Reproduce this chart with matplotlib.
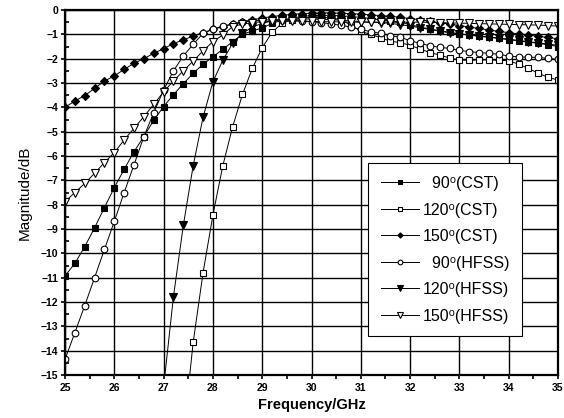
import numpy as np
import matplotlib
matplotlib.use("Agg")
import matplotlib.pyplot as plt
from matplotlib.ticker import MultipleLocator

plt.rcParams['font.family'] = ['Liberation Sans', 'DejaVu Sans']

# frequency grid, GHz (one marker every 0.2 GHz)
freq = [25.0, 25.2, 25.4, 25.6, 25.8, 26.0, 26.2, 26.4, 26.6, 26.8,
        27.0, 27.2, 27.4, 27.6, 27.8, 28.0, 28.2, 28.4, 28.6, 28.8,
        29.0, 29.2, 29.4, 29.6, 29.8, 30.0, 30.2, 30.4, 30.6, 30.8,
        31.0, 31.2, 31.4, 31.6, 31.8, 32.0, 32.2, 32.4, 32.6, 32.8,
        33.0, 33.2, 33.4, 33.6, 33.8, 34.0, 34.2, 34.4, 34.6, 34.8, 35.0]

nan = np.nan

cst_90 = [-10.93, -10.41, -9.73, -8.95, -8.12, -7.30, -6.55, -5.82, -5.20, -4.53,
          -3.97, -3.48, -3.03, -2.60, -2.23, -1.92, -1.62, -1.30, -1.00, -0.86,
          -0.74, -0.55, -0.42, -0.33, -0.27, -0.23, -0.22, -0.22, -0.24, -0.27,
          -0.30, -0.35, -0.40, -0.45, -0.50, -0.60, -0.70, -0.78, -0.85, -0.92,
          -0.98, -1.03, -1.08, -1.12, -1.17, -1.22, -1.27, -1.32, -1.37, -1.43, -1.50]

cst_120 = [nan, nan, nan, nan, nan, nan, nan, nan, nan, nan,
           nan, nan, -17.5, -13.66, -10.80, -8.43, -6.41, -4.80, -3.47, -2.40,
           -1.55, -0.92, -0.55, -0.40, -0.33, -0.30, -0.30, -0.33, -0.40, -0.62,
           -0.88, -1.00, -1.14, -1.28, -1.34, -1.45, -1.60, -1.75, -1.85, -1.97,
           -2.05, -2.07, -2.05, -2.05, -2.07, -2.08, -2.23, -2.40, -2.60, -2.77, -2.88]

cst_150 = [-4.00, -3.74, -3.52, -3.22, -2.92, -2.71, -2.44, -2.19, -2.00, -1.78,
           -1.59, -1.38, -1.23, -1.07, -0.93, -0.80, -0.68, -0.58, -0.48, -0.40,
           -0.33, -0.27, -0.22, -0.18, -0.15, -0.13, -0.12, -0.12, -0.13, -0.15,
           -0.17, -0.20, -0.23, -0.26, -0.30, -0.35, -0.40, -0.46, -0.52, -0.58,
           -0.64, -0.70, -0.76, -0.82, -0.88, -0.93, -0.98, -1.03, -1.08, -1.13, -1.18]

hfss_90 = [-14.36, -13.26, -12.15, -11.00, -9.84, -8.69, -7.50, -6.36, -5.20, -4.22,
           -3.29, -2.50, -1.89, -1.41, -0.96, -0.79, -0.66, -0.58, -0.50, -0.45,
           -0.42, -0.40, -0.40, -0.42, -0.45, -0.48, -0.52, -0.57, -0.63, -0.70,
           -0.80, -0.89, -0.96, -1.05, -1.12, -1.26, -1.37, -1.47, -1.53, -1.58,
           -1.66, -1.71, -1.75, -1.78, -1.82, -1.89, -1.93, -1.94, -1.95, -1.99, -2.03]

hfss_120 = [nan, nan, nan, nan, nan, nan, nan, nan, nan, nan,
            -15.5, -11.78, -8.85, -6.40, -4.41, -2.95, -2.07, -1.37, -0.96, -0.70,
            -0.55, -0.45, -0.40, -0.38, -0.37, -0.37, -0.38, -0.40, -0.42, -0.45,
            -0.48, -0.50, -0.52, -0.55, -0.60, -0.66, -0.73, -0.80, -0.87, -0.93,
            -0.98, -1.03, -1.07, -1.11, -1.15, -1.20, -1.25, -1.30, -1.35, -1.40, -1.45]

hfss_150 = [-7.88, -7.50, -7.13, -6.71, -6.27, -5.86, -5.34, -4.86, -4.38, -3.88,
            -3.36, -2.92, -2.50, -2.10, -1.68, -1.30, -1.03, -0.68, -0.58, -0.52,
            -0.48, -0.46, -0.45, -0.45, -0.46, -0.47, -0.48, -0.48, -0.49, -0.50,
            -0.50, -0.50, -0.50, -0.50, -0.50, -0.50, -0.50, -0.51, -0.52, -0.53,
            -0.54, -0.55, -0.56, -0.57, -0.58, -0.59, -0.60, -0.61, -0.62, -0.64, -0.66]

labels = ["  90⁰(CST)", "120⁰(CST)", "150⁰(CST)",
          "  90⁰(HFSS)", "120⁰(HFSS)", "150⁰(HFSS)"]

fig = plt.figure(figsize=(5.64, 4.18), dpi=100)
ax = fig.add_axes([65/564, 1-375/418, 493/564, 365/418])

ax.grid(True, which='major', color='k', linewidth=1.0)
ax.set_axisbelow(True)

series = [(cst_90, 's', 'k', 4.2),
          (cst_120, 's', 'white', 4.2),
          (cst_150, 'D', 'k', 3.8),
          (hfss_90, 'o', 'white', 4.8),
          (hfss_120, 'v', 'k', 6.0),
          (hfss_150, 'v', 'white', 6.0)]

for (vals, mk, fc, ms), lab in zip(series, labels):
    ax.plot(freq, vals, color='k', linewidth=0.7, marker=mk, markersize=ms,
            markerfacecolor=fc, markeredgecolor='k', markeredgewidth=0.8,
            label=lab)

ax.set_xlim(25, 35)
ax.set_ylim(-15, 0)
ax.xaxis.set_major_locator(MultipleLocator(1))
ax.xaxis.set_minor_locator(MultipleLocator(0.5))
ax.yaxis.set_major_locator(MultipleLocator(1))
ax.yaxis.set_minor_locator(MultipleLocator(0.5))

ax.tick_params(axis='x', which='both', direction='out', length=3, width=1.2, pad=3)
ax.tick_params(axis='y', which='major', direction='out', length=3, width=1.2, pad=2)
ax.tick_params(axis='y', which='minor', direction='in', length=3, width=1.2)
for t in ax.get_xticklabels() + ax.get_yticklabels():
    t.set_fontweight('bold')
    t.set_fontsize(7.5)

for s in ax.spines.values():
    s.set_linewidth(1.6)

ax.set_xlabel("Frequency/GHz", fontsize=10.5, fontweight='bold', labelpad=3)
ax.set_ylabel("Magnitude/dB", fontsize=11, labelpad=6)

leg = ax.legend(loc='upper left', bbox_to_anchor=(0.615, 0.58),
                fontsize=11.5, frameon=True, fancybox=False,
                edgecolor='k', framealpha=1, handlelength=2.4, handletextpad=0.2,
                labelspacing=0.72, borderpad=0.8, borderaxespad=0,
                markerscale=0.7)
leg.get_frame().set_linewidth(0.8)

fig.savefig("out.png", dpi=100)
